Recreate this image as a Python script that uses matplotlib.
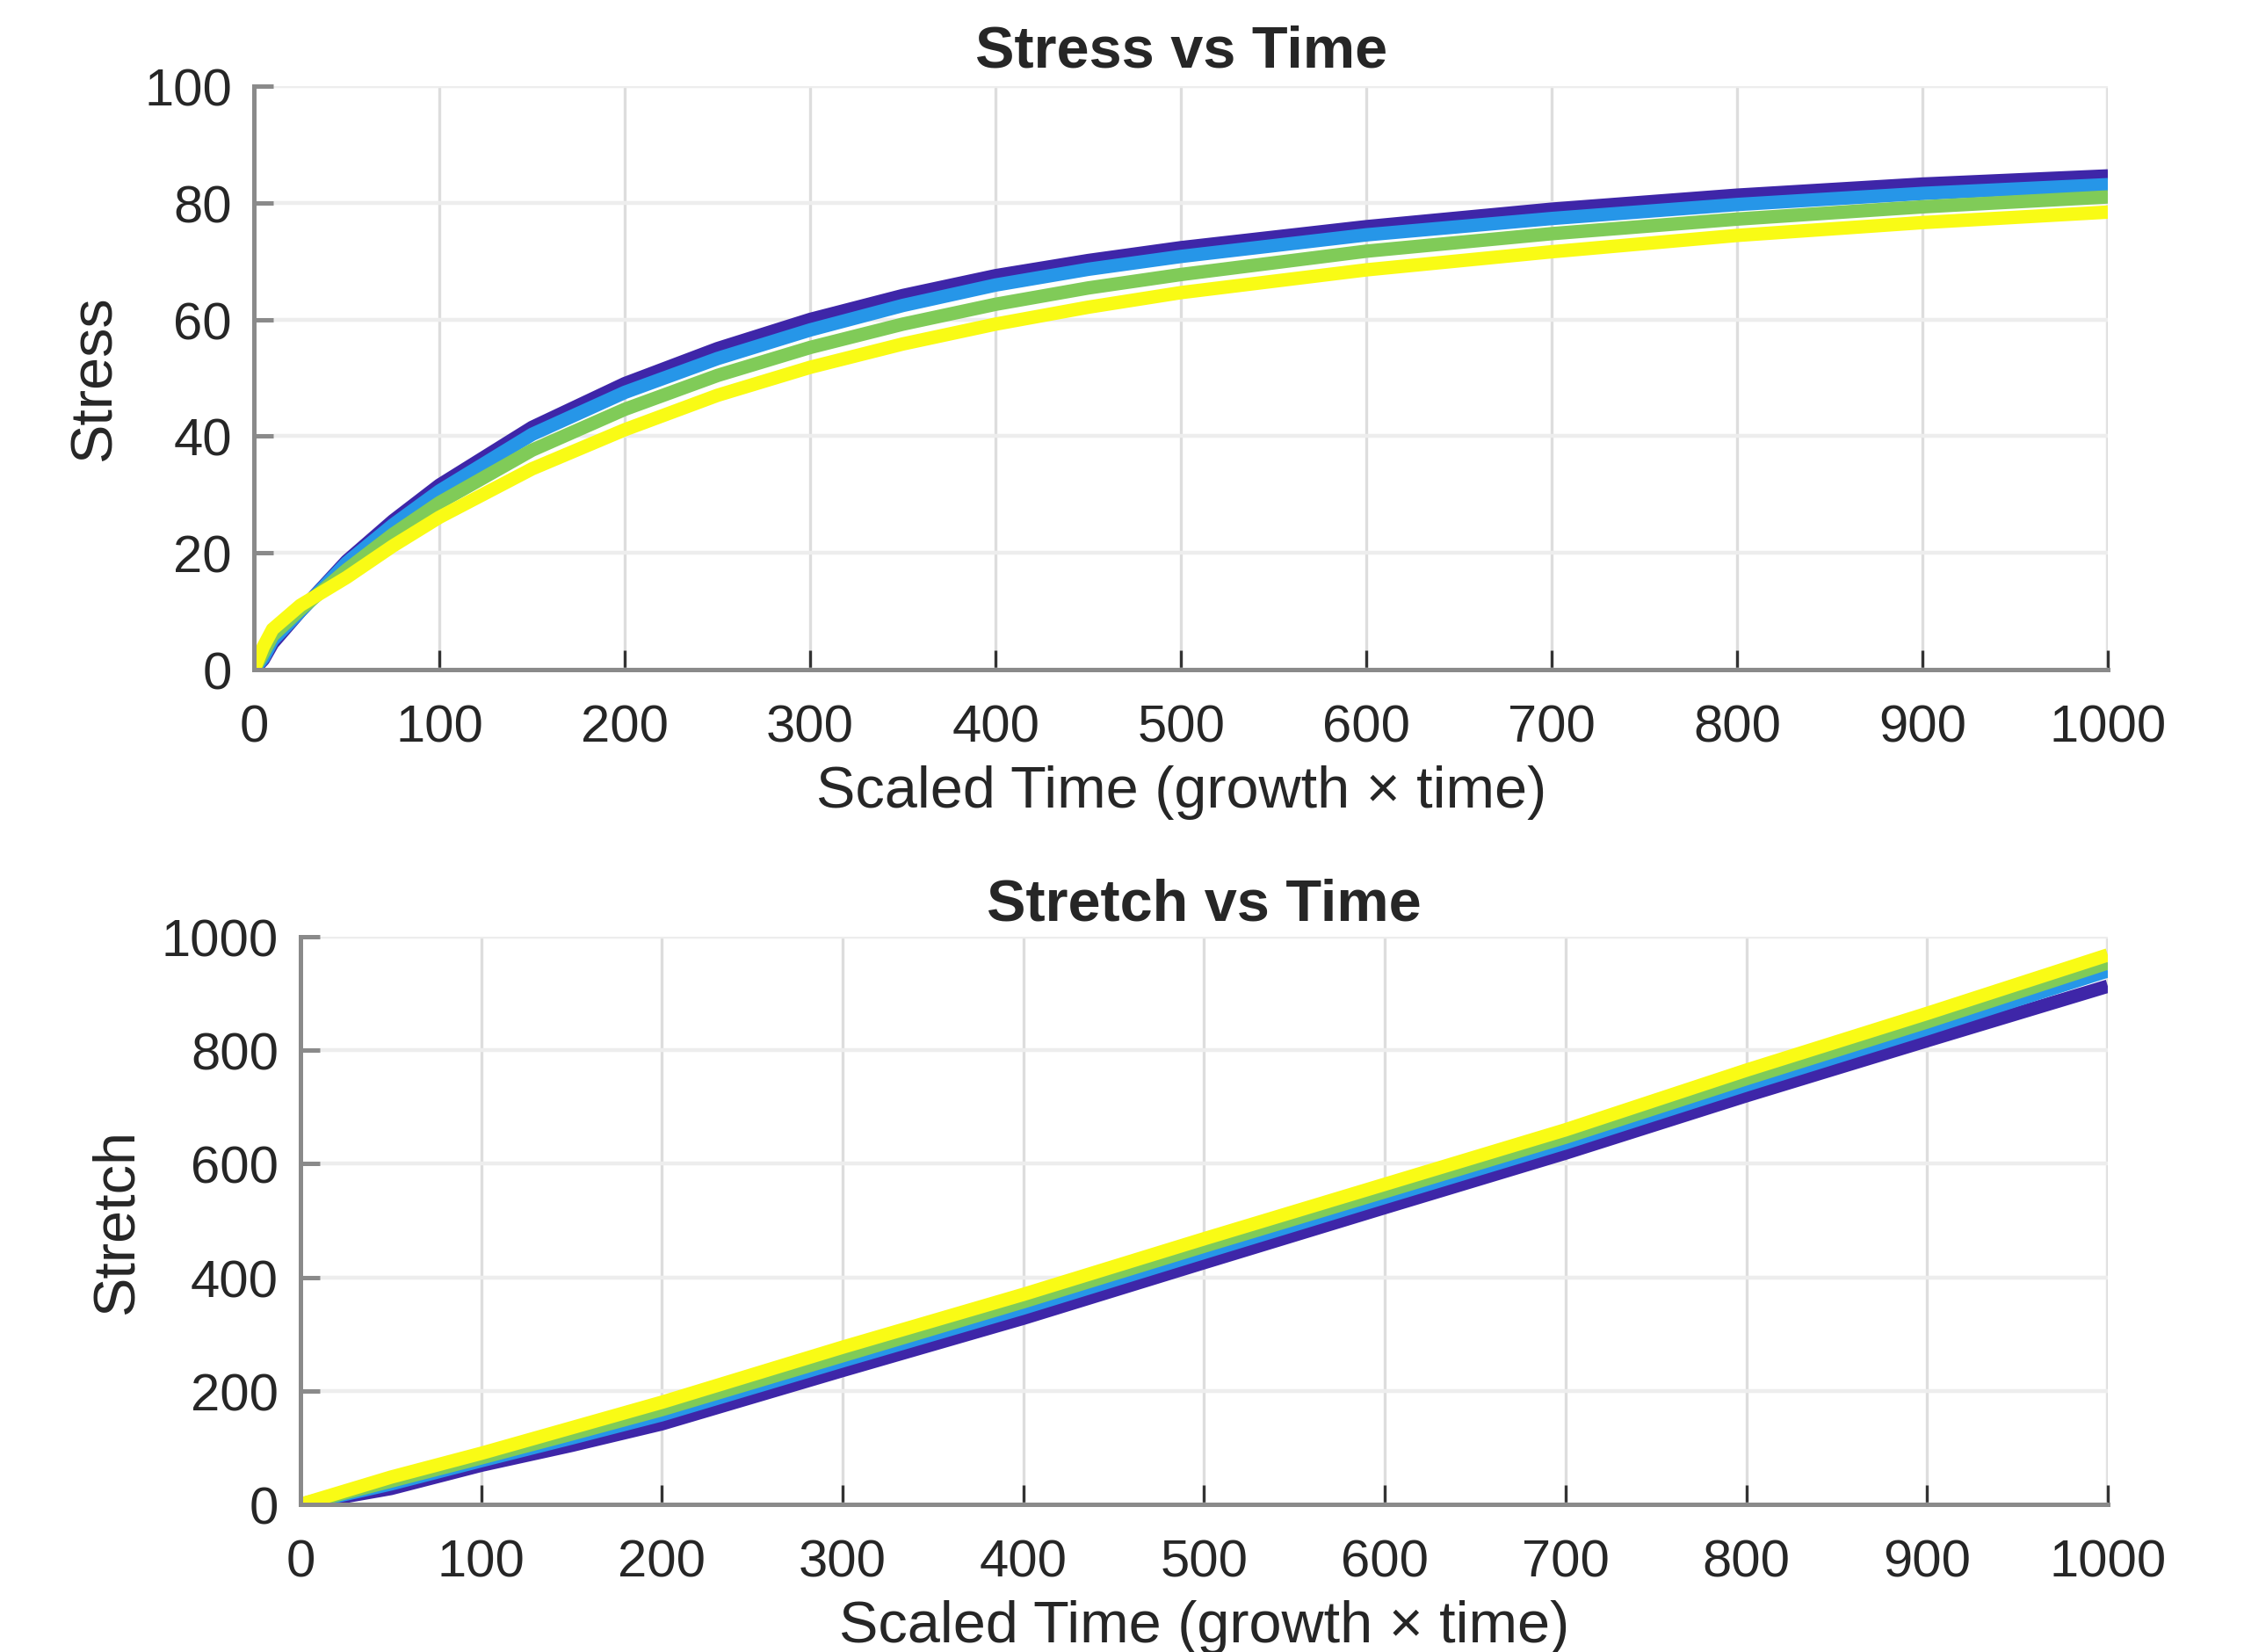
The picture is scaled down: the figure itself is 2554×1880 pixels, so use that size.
import matplotlib
matplotlib.use("Agg")
import matplotlib.pyplot as plt

plt.rcParams['font.family'] = ['Liberation Sans', 'DejaVu Sans']

# series colours (parula-like), drawn in this order
colors = ['#3e26a8', '#2696e8', '#80cb58', '#f9fb15']

# Stress vs Time
t_stress = [0, 5, 10, 25, 50, 75, 100, 150, 200, 250, 300, 350, 400, 450, 500, 600, 700, 800, 900, 1000]
stress = [
    [0, 1.7, 4.5, 10.0, 18.6, 25.5, 31.6, 41.5, 49.0, 55.0, 60.0, 64.1, 67.5, 70.1, 72.3, 75.9, 78.9, 81.3, 83.2, 84.6],
    [0, 2.0, 5.0, 10.0, 18.3, 24.8, 30.6, 40.3, 47.5, 53.3, 58.2, 62.4, 65.9, 68.6, 70.8, 74.5, 77.3, 79.7, 81.6, 83.1],
    [0, 2.8, 5.8, 10.3, 17.1, 23.2, 28.6, 37.6, 44.6, 50.4, 55.2, 59.2, 62.6, 65.4, 67.7, 71.7, 74.7, 77.2, 79.3, 81.0],
    [0, 3.9, 6.9, 11.0, 15.8, 21.2, 26.1, 34.4, 41.1, 47.0, 51.8, 55.8, 59.2, 62.1, 64.6, 68.5, 71.6, 74.4, 76.6, 78.4],
]

# Stretch vs Time
t_stretch = [0, 50, 100, 150, 200, 300, 400, 500, 600, 700, 800, 900, 1000]
stretch = [
    [0, 28, 69, 104, 142, 236, 328, 426, 523, 619, 720, 817, 913],
    [0, 36, 77, 117, 158, 253, 346, 444, 541, 637, 739, 838, 940],
    [0, 41, 82, 124, 167, 262, 357, 455, 551, 647, 750, 850, 954],
    [0, 48, 90, 135, 180, 277, 370, 468, 564, 660, 765, 865, 968],
]

text_color = '#262626'
spine_color = '#8a8a8a'


def style_axes(ax, yticks):
    ax.set_xlim(0, 1000)
    ax.set_ylim(yticks[0], yticks[-1])
    ax.set_xticks(range(0, 1001, 100))
    ax.set_yticks(yticks)
    for side in ['top', 'right']:
        ax.spines[side].set_visible(False)
    for side in ['left', 'bottom']:
        ax.spines[side].set_color(spine_color)
        ax.spines[side].set_linewidth(1.8)
    ax.xaxis.grid(True, color='#dddddd', linewidth=1.2)
    ax.yaxis.grid(True, color='#ededed', linewidth=1.6)
    ax.set_axisbelow(True)
    ax.tick_params(axis='x', direction='in', length=8, width=1.2, color='#333333',
                   pad=14, labelsize=21.5, labelcolor=text_color)
    ax.tick_params(axis='y', direction='in', length=8, width=1.8, color=spine_color,
                   pad=9, labelsize=21.5, labelcolor=text_color)
    # gridline along the right edge
    ax.axvline(1000, color='#e6e6e6', linewidth=1.6, zorder=0)


fig = plt.figure(figsize=(12.77, 9.405), dpi=200)

ax1 = fig.add_axes([0.1132, 0.5944, 0.8262, 0.3530])
for ys, c in zip(stress, colors):
    ax1.plot(t_stress, ys, color=c, linewidth=5.5, solid_capstyle='butt', solid_joinstyle='round')
style_axes(ax1, [0, 20, 40, 60, 80, 100])
ax1.set_title('Stress vs Time', fontsize=24, fontweight='bold', color=text_color, pad=8)
ax1.set_xlabel('Scaled Time (growth \u00d7 time)', fontsize=24, color=text_color, labelpad=5)
ax1.set_ylabel('Stress', fontsize=24, color=text_color, labelpad=9)

ax2 = fig.add_axes([0.1339, 0.0893, 0.8054, 0.3434])
for ys, c in zip(stretch, colors):
    ax2.plot(t_stretch, ys, color=c, linewidth=5.5, solid_capstyle='butt', solid_joinstyle='round')
style_axes(ax2, [0, 200, 400, 600, 800, 1000])
ax2.set_title('Stretch vs Time', fontsize=24, fontweight='bold', color=text_color, pad=7)
ax2.set_xlabel('Scaled Time (growth \u00d7 time)', fontsize=24, color=text_color, labelpad=5)
ax2.set_ylabel('Stretch', fontsize=24, color=text_color, labelpad=7)

fig.savefig('out.png', dpi=200, facecolor='white')
